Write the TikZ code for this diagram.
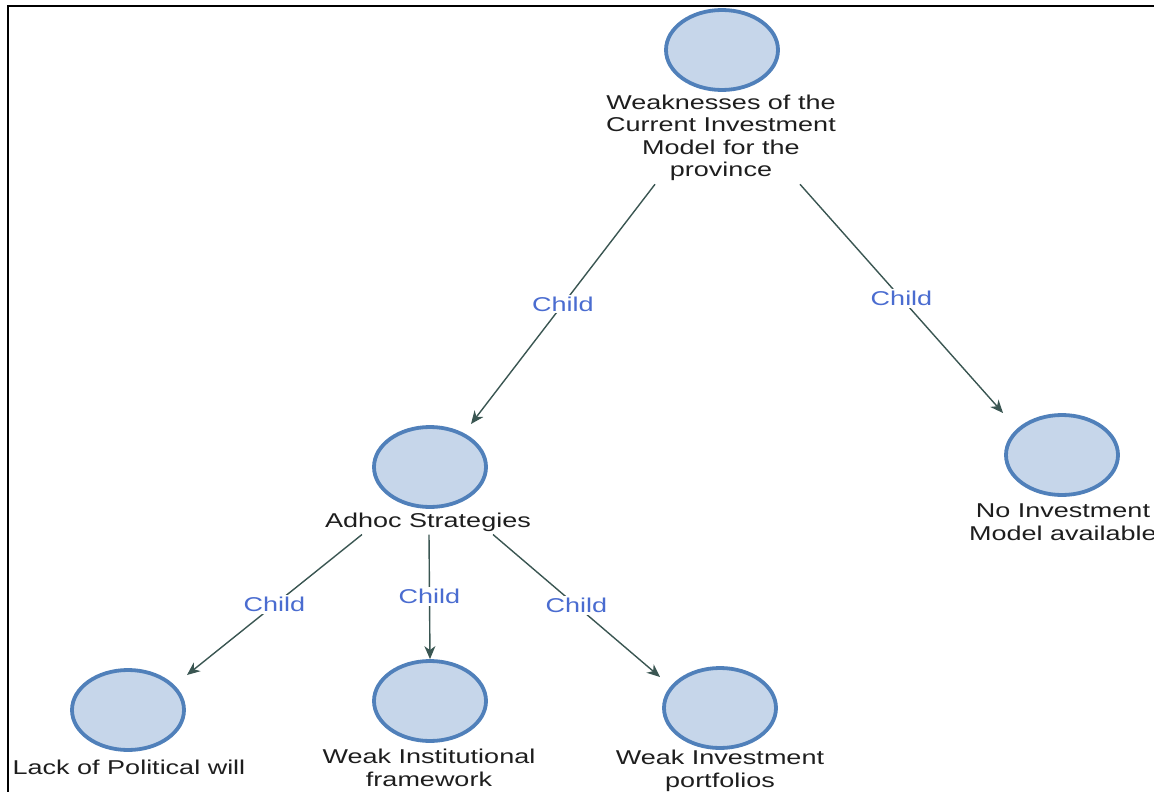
\documentclass[tikz,border=0pt]{standalone}
\usepackage{fontspec}
\usetikzlibrary{shapes.geometric,arrows.meta}
\newfontfamily\labfont[FakeStretch=1.35]{Liberation Sans}
\definecolor{nodefill}{RGB}{198,214,234}
\definecolor{nodeline}{RGB}{80,128,186}
\definecolor{edgecol}{RGB}{58,86,82}
\definecolor{relcol}{RGB}{74,108,208}
\definecolor{textcol}{RGB}{30,30,30}
\begin{document}
\begin{tikzpicture}[x=1pt,y=-1pt,
  topic/.style={ellipse, draw=nodeline, fill=nodefill, line width=3.8pt,
    inner sep=0pt, minimum width=112pt, minimum height=80pt},
  caption/.style={font=\labfont\fontsize{20}{22.5}\selectfont, text=textcol,
    align=center, inner sep=1pt},
  link/.style={draw=edgecol, line width=1.4pt,
    -{Stealth[length=13pt,width=11pt,inset=4pt]}},
  rel/.style={font=\labfont\fontsize{20}{22}\selectfont, text=relcol,
    fill=white, inner sep=2pt, midway}]
\useasboundingbox (0,0) rectangle (1154,792);
% frame
\draw[line width=1.5pt, black] (8,792) -- (8,6) -- (1154,6);

% topics
\node[topic] (root) at (722,50) {};
\node[caption] (roottxt) at (721,138)
  {Weaknesses of the\\Current Investment\\Model for the\\province};

\node[topic] (adhoc) at (430,467) {};
\node[caption] (adhoctxt) at (428,522) {Adhoc Strategies};

\node[topic] (noinv) at (1062,455) {};
\node[caption] (noinvtxt) at (1063,522) {No Investment\\Model available};

\node[topic] (lack) at (128,710) {};
\node[caption] (lacktxt) at (129,767) {Lack of Political will};

\node[topic] (inst) at (430,701) {};
\node[caption] (insttxt) at (429,768) {Weak Institutional\\framework};

\node[topic] (port) at (720,708) {};
\node[caption] (porttxt) at (720,771) {Weak Investment\\portfolios};

% child links (offsets in picture units, y pointing down)
\draw[link] ([shift={(-66,2)}]roottxt.south)
  -- ([shift={(41,-43)}]adhoc.center) node[rel] {Child};
\draw[link] ([shift={(79,2)}]roottxt.south)
  -- ([shift={(-59,-42)}]noinv.center) node[rel] {Child};
\draw[link] ([shift={(-66,2)}]adhoctxt.south)
  -- ([shift={(59,-35)}]lack.center) node[rel] {Child};
\draw[link] ([shift={(1,2)}]adhoctxt.south)
  -- (inst.north) node[rel] {Child};
\draw[link] ([shift={(65,2)}]adhoctxt.south)
  -- ([shift={(-60,-31)}]port.center) node[rel] {Child};
\end{tikzpicture}
\end{document}
